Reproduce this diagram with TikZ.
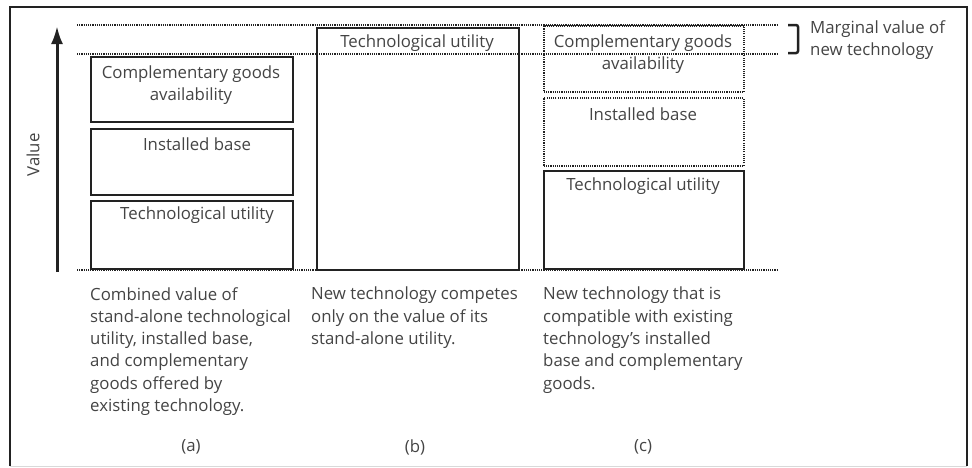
\documentclass[tikz,border=0pt]{standalone}
\usepackage{fontspec}
\setmainfont{Open Sans}
\usetikzlibrary{arrows.meta}
\definecolor{ink}{HTML}{222222}
\definecolor{txt}{HTML}{444444}
\begin{document}
\begin{tikzpicture}[x=1pt,y=-1pt,
  solidbox/.style={draw=ink,line width=2.4pt,inner sep=0pt,anchor=north west},
  dotbox/.style={draw=ink,line width=1.6pt,dash pattern=on 1.1pt off 1.1pt,inner sep=0pt,anchor=north west},
  dotline/.style={draw=ink,line width=1.6pt,dash pattern=on 1.1pt off 1.1pt},
  lbl/.style={text=txt,font=\fontsize{16.8}{22.3}\selectfont,inner sep=0pt,align=center},
  desc/.style={text=txt,font=\fontsize{16.8}{22.3}\selectfont,inner sep=0pt,align=left,anchor=north west}]
\useasboundingbox (0,0) rectangle (972,467);
% frame
\draw[ink,line width=2pt] (10,466) -- (10,7) -- (967,7) -- (967,466);
\draw[black!15,line width=1pt] (10,466) -- (967,466);
% reference lines
\coordinate (t1) at (77,25); \coordinate (t2) at (778,25);
\coordinate (m1) at (77,54); \coordinate (m2) at (778,54);
\coordinate (b1) at (77,270); \coordinate (b2) at (778,270);
\draw[dotline] (t1) -- (t2);
\draw[dotline] (m1) -- (m2);
\draw[dotline] (b1) -- (b2);
% value axis
\coordinate (ax0) at (57,272); \coordinate (ax1) at (57,26);
\draw[ink,line width=3pt,-{Latex[length=18pt,width=12pt]}] (ax0) -- (ax1);
\node[lbl,rotate=90] (val) at (33,155) {Value};
% column a
\node[solidbox,minimum width=202pt,minimum height=65pt] (a3) at (90,56) {};
\node[solidbox,minimum width=202pt,minimum height=66pt] (a2) at (90,128) {};
\node[solidbox,minimum width=202pt,minimum height=68pt] (a1) at (90,200) {};
\node[lbl] (a3t) at (191,85) {Complementary goods\\availability};
\node[lbl] (a2t) at (197,144) {Installed base};
\node[lbl] (a1t) at (197,215) {Technological utility};
% column b
\node[solidbox,minimum width=202pt,minimum height=242pt] (b) at (316,27) {};
\node[lbl] (bt) at (417,43) {Technological utility};
% column c
\node[dotbox,minimum width=200pt,minimum height=66pt] (c3) at (543,25) {};
\node[dotbox,minimum width=200pt,minimum height=68pt] (c2) at (543,97) {};
\node[solidbox,minimum width=200pt,minimum height=98pt] (c1) at (543,170) {};
\node[lbl] (c3t) at (643,54) {Complementary goods\\availability};
\node[lbl] (c2t) at (643,114) {Installed base};
\node[lbl] (c1t) at (643,186) {Technological utility};
% bracket
\coordinate (br1) at (788,25); \coordinate (br2) at (788,53);
\draw[ink,line width=2.5pt,rounded corners=2pt] (br1) -- ++(10,0) -- ++(0,28) -- (br2);
\node[desc,anchor=west] (marg) at (810,40) {Marginal value of\\new technology};
% descriptions
\node[desc] (da) at (90,287) {Combined value of\\stand-alone technological\\utility, installed base,\\and complementary\\goods offered by\\existing technology.};
\node[desc] (db) at (311,287) {New technology competes\\only on the value of its\\stand-alone utility.};
\node[desc] (dc) at (543,287) {New technology that is\\compatible with existing\\technology\symbol{"0027}s installed\\base and complementary\\goods.};
\node[lbl] (la) at (191,447) {(a)};
\node[lbl] (lb) at (415,447) {(b)};
\node[lbl] (lc) at (643,447) {(c)};
\end{tikzpicture}
\end{document}
